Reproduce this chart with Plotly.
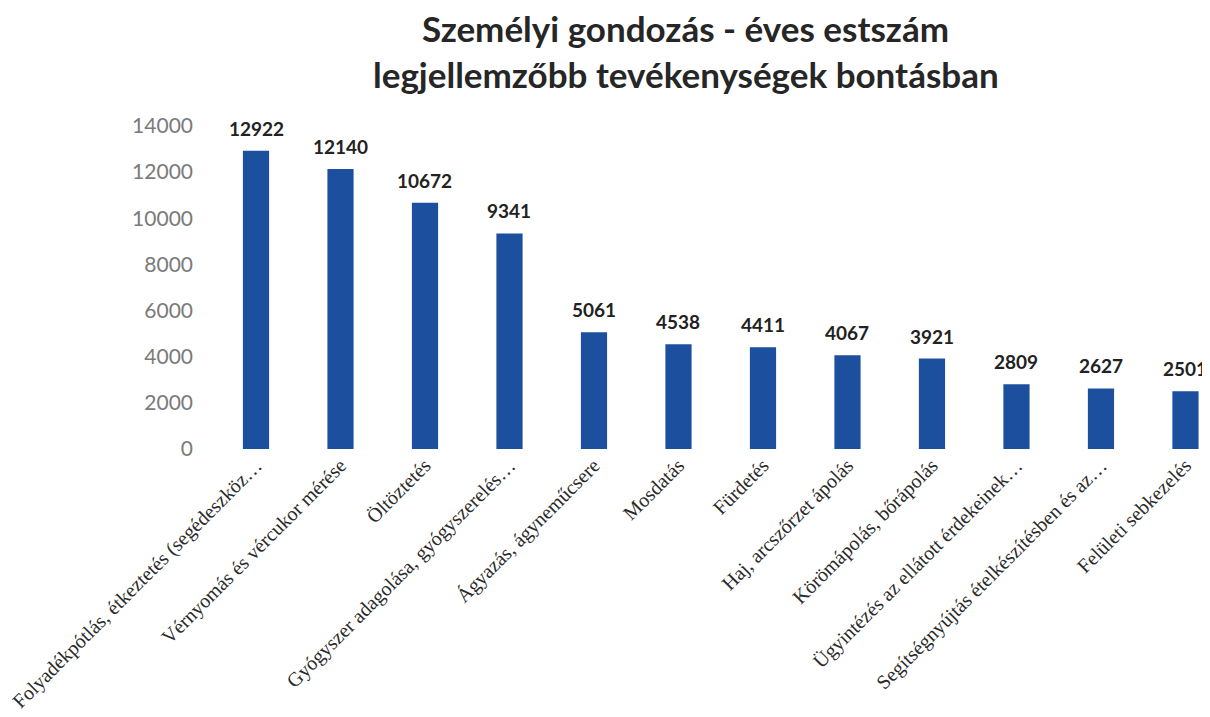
import plotly.graph_objects as go

categories = [
    "Folyadékpótlás, étkeztetés (segédeszköz…",
    "Vérnyomás és vércukor mérése",
    "Öltöztetés",
    "Gyógyszer adagolása, gyógyszerelés…",
    "Ágyazás, ágyneműcsere",
    "Mosdatás",
    "Fürdetés",
    "Haj, arcszőrzet ápolás",
    "Körömápolás, bőrápolás",
    "Ügyintézés az ellátott érdekeinek…",
    "Segítségnyújtás ételkészítésben és az…",
    "Felületi sebkezelés",
]
values = [12922, 12140, 10672, 9341, 5061, 4538, 4411, 4067, 3921, 2809, 2627, 2501]
y_ticks = [0, 2000, 4000, 6000, 8000, 10000, 12000, 14000]
title_lines = ["Személyi gondozás - éves estszám", "legjellemzőbb tevékenységek bontásban"]

fig = go.Figure(go.Bar(
    x=categories, y=values,
    marker=dict(color="#1C509E", line=dict(width=0)),
    width=0.31,
    cliponaxis=False,
))

for c, v in zip(categories, values):
    fig.add_annotation(
        x=c, y=v, text=f"<b>{v}</b>", showarrow=False,
        yanchor="bottom", yshift=9,
        font=dict(family="Lato, Open Sans, sans-serif", size=19, color="#222222"),
    )

for ty, line in zip([1.303, 1.16], title_lines):
    fig.add_annotation(
        xref="paper", yref="paper", x=0.470, y=ty, text=f"<b>{line}</b>",
        showarrow=False, xanchor="center", yanchor="middle",
        font=dict(family="Lato, Open Sans, sans-serif", size=35, color="#262626"),
    )

fig.update_layout(
    width=1210, height=717,
    paper_bgcolor="white", plot_bgcolor="white",
    margin=dict(l=206, r=0, t=118, b=276),
    showlegend=False,
)
fig.update_xaxes(
    range=[-0.497, 11.385], tickangle=-45, showgrid=False, showline=False, zeroline=False,
    ticks="", automargin=False,
    tickfont=dict(family="Liberation Serif, serif", size=20, color="#2a2a2a"),
)
fig.update_yaxes(
    range=[0, 14000], tickvals=y_ticks, tickformat="d", showgrid=False, showline=False,
    zeroline=False, ticks="", automargin=False, ticklabelstandoff=20,
    tickfont=dict(family="Lato, Open Sans, sans-serif", size=21, color="#7a7a7a"),
)

fig.write_html("out.html")
